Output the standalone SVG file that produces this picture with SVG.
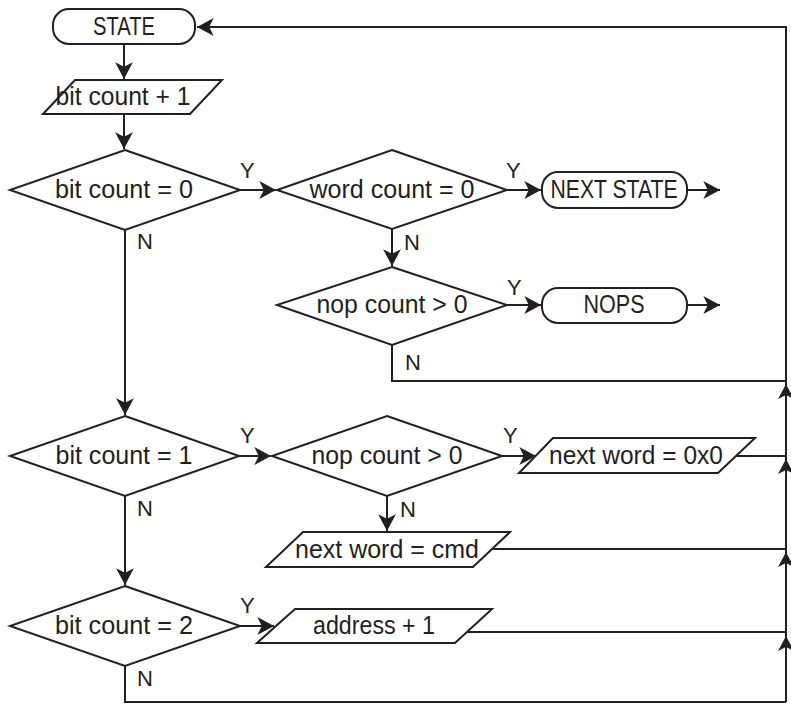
<svg xmlns="http://www.w3.org/2000/svg" xmlns:xlink="http://www.w3.org/1999/xlink" width="791" height="705" viewBox="0 0 791 705">
<style>
.s{fill:#fff;stroke:#231f20;stroke-width:2;stroke-linejoin:miter}
.c{fill:none;stroke:#231f20;stroke-width:2}
.t{font-family:"Liberation Sans",Arial,sans-serif;font-size:25px;fill:#231f20;text-anchor:middle}
.l{font-family:"Liberation Sans",Arial,sans-serif;font-size:22px;fill:#231f20}
.ah{fill:#231f20}
</style>
<defs>
<marker id="arr" markerUnits="userSpaceOnUse" markerWidth="20" markerHeight="20" viewBox="-16 -9 17 18" refX="0" refY="0" orient="auto">
<path d="M0,0 L-15,-8 L-11,0 L-15,8 Z" class="ah"/>
</marker>
<path id="up" d="M0,0 L-8,15 L0,11 L8,15 Z" class="ah"/>
</defs>
<g id="connectors">
<line class="c" x1="124" y1="44" x2="124" y2="79" marker-end="url(#arr)"/>
<line class="c" x1="124" y1="114" x2="124" y2="149" marker-end="url(#arr)"/>
<line class="c" x1="240" y1="190" x2="276" y2="190" marker-end="url(#arr)"/>
<line class="c" x1="507" y1="190" x2="541" y2="190" marker-end="url(#arr)"/>
<line class="c" x1="687" y1="190" x2="720" y2="190" marker-end="url(#arr)"/>
<line class="c" x1="392" y1="229" x2="392" y2="266" marker-end="url(#arr)"/>
<line class="c" x1="507" y1="305" x2="541" y2="305" marker-end="url(#arr)"/>
<line class="c" x1="687" y1="305" x2="720" y2="305" marker-end="url(#arr)"/>
<polyline class="c" points="392,345 392,381 786,381"/>
<line class="c" x1="125" y1="230" x2="125" y2="415" marker-end="url(#arr)"/>
<line class="c" x1="239" y1="456" x2="271" y2="456" marker-end="url(#arr)"/>
<line class="c" x1="502" y1="456" x2="536" y2="456" marker-end="url(#arr)"/>
<line class="c" x1="736" y1="456" x2="786" y2="456"/>
<line class="c" x1="387" y1="496" x2="387" y2="531" marker-end="url(#arr)"/>
<line class="c" x1="491" y1="549" x2="786" y2="549"/>
<line class="c" x1="125" y1="496" x2="125" y2="585" marker-end="url(#arr)"/>
<line class="c" x1="240" y1="626" x2="274" y2="626" marker-end="url(#arr)"/>
<line class="c" x1="467" y1="632" x2="786" y2="632"/>
<polyline class="c" points="125,666 125,702 786,702"/>
<polyline class="c" points="786,702 786,27 197,27" marker-end="url(#arr)"/>
<use xlink:href="#up" x="786" y="384"/>
<use xlink:href="#up" x="786" y="459"/>
<use xlink:href="#up" x="786" y="552"/>
<use xlink:href="#up" x="786" y="636"/>
<text class="l" x="240" y="178">Y</text>
<text class="l" x="506" y="178">Y</text>
<text class="l" x="507" y="295">Y</text>
<text class="l" x="240" y="443">Y</text>
<text class="l" x="503" y="443">Y</text>
<text class="l" x="240" y="613">Y</text>
<text class="l" x="137" y="249">N</text>
<text class="l" x="404" y="250">N</text>
<text class="l" x="405" y="370">N</text>
<text class="l" x="137" y="516">N</text>
<text class="l" x="400" y="517">N</text>
<text class="l" x="137" y="686">N</text>
</g>
<g id="state">
<rect class="s" x="53" y="9" width="142" height="35" rx="16"/>
<text class="t" x="124" y="35" textLength="62" lengthAdjust="spacingAndGlyphs">STATE</text>
</g>
<g id="bitinc">
<polygon class="s" points="75,80 222,80 190,114 43,114"/>
<text class="t" x="123" y="105" textLength="135" lengthAdjust="spacingAndGlyphs">bit count + 1</text>
</g>
<g id="bc0">
<polygon class="s" points="125,150 240,190 125,230 10,190"/>
<text class="t" x="124" y="198" textLength="138" lengthAdjust="spacingAndGlyphs">bit count = 0</text>
</g>
<g id="wc0">
<polygon class="s" points="392,150 507,190 392,229 277,190"/>
<text class="t" x="392" y="198" textLength="165" lengthAdjust="spacingAndGlyphs">word count = 0</text>
</g>
<g id="nextstate">
<rect class="s" x="542" y="172" width="145" height="36" rx="16"/>
<text class="t" x="614" y="198" textLength="127" lengthAdjust="spacingAndGlyphs">NEXT STATE</text>
</g>
<g id="nop1">
<polygon class="s" points="392,267 507,305 392,345 277,305"/>
<text class="t" x="392" y="313" textLength="151" lengthAdjust="spacingAndGlyphs">nop count &gt; 0</text>
</g>
<g id="nops">
<rect class="s" x="542" y="288" width="145" height="35" rx="16"/>
<text class="t" x="614" y="313" textLength="61" lengthAdjust="spacingAndGlyphs">NOPS</text>
</g>
<g id="bc1">
<polygon class="s" points="125,416 239,456 125,496 10,456"/>
<text class="t" x="124" y="464" textLength="137" lengthAdjust="spacingAndGlyphs">bit count = 1</text>
</g>
<g id="nop2">
<polygon class="s" points="387,416 502,456 387,496 272,456"/>
<text class="t" x="387" y="464" textLength="151" lengthAdjust="spacingAndGlyphs">nop count &gt; 0</text>
</g>
<g id="nw0">
<polygon class="s" points="553,438 755,438 718,473 519,473"/>
<text class="t" x="636" y="464" textLength="174" lengthAdjust="spacingAndGlyphs">next word = 0x0</text>
</g>
<g id="nwcmd">
<polygon class="s" points="303,532 510,532 473,567 266,567"/>
<text class="t" x="387" y="558" textLength="184" lengthAdjust="spacingAndGlyphs">next word = cmd</text>
</g>
<g id="bc2">
<polygon class="s" points="125,586 240,626 125,666 10,626"/>
<text class="t" x="124" y="634" textLength="138" lengthAdjust="spacingAndGlyphs">bit count = 2</text>
</g>
<g id="addr">
<polygon class="s" points="295,609 492,609 455,643 257,643"/>
<text class="t" x="374" y="634" textLength="122" lengthAdjust="spacingAndGlyphs">address + 1</text>
</g>
</svg>
